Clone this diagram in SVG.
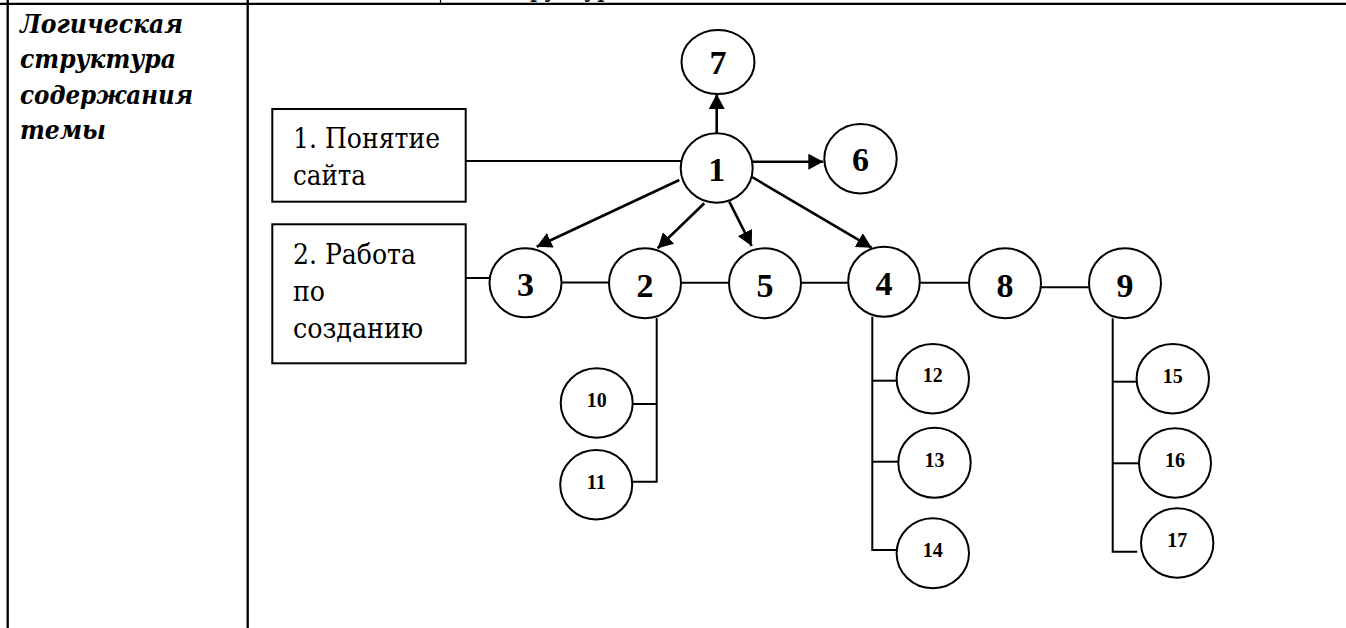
<svg xmlns="http://www.w3.org/2000/svg" width="1346" height="628" viewBox="0 0 1346 628">
<defs>
<style>
.tbl{stroke:#000;stroke-width:2.3;fill:none}
.c{fill:#fff;stroke:#000;stroke-width:2}
.box{fill:#fff;stroke:#000;stroke-width:2}
.ln{stroke:#000;stroke-width:2;fill:none}
.ar{stroke:#000;stroke-width:2.6;fill:none;marker-end:url(#ah)}
.big{font-family:"Liberation Serif","DejaVu Serif",serif;font-weight:bold;font-size:34px;text-anchor:middle}
.sm{font-family:"Liberation Serif","DejaVu Serif",serif;font-weight:bold;font-size:20px;text-anchor:middle}
.bt{font-family:"DejaVu Serif Condensed","DejaVu Serif","Liberation Serif",serif;font-size:28px}
.hd{font-family:"DejaVu Serif Condensed","DejaVu Serif","Liberation Serif",serif;font-size:26px;font-weight:bold;font-style:italic}
</style>
<marker id="ah" markerUnits="userSpaceOnUse" markerWidth="16" markerHeight="16" refX="15" refY="8" orient="auto" viewBox="0 0 16 16">
<path d="M0,0 L15,8 L0,16 z" fill="#000"/>
</marker>
</defs>
<rect width="1346" height="628" fill="#fff"/>
<g id="table">
<line class="tbl" x1="0" y1="3.8" x2="1346" y2="3.8"/>
<line class="tbl" x1="7.7" y1="0" x2="7.7" y2="628"/>
<line class="tbl" x1="247.7" y1="0" x2="247.7" y2="628"/>
<line stroke="#000" stroke-width="1.2" x1="440.5" y1="0" x2="440.5" y2="3"/>
<text class="bt" x="505" y="-4" font-size="22" textLength="120" lengthAdjust="spacingAndGlyphs">структура</text>
<text class="hd" x="20" y="33" textLength="163" lengthAdjust="spacingAndGlyphs">Логическая</text>
<text class="hd" x="20" y="68" textLength="156" lengthAdjust="spacingAndGlyphs">структура</text>
<text class="hd" x="20" y="104" textLength="173" lengthAdjust="spacingAndGlyphs">содержания</text>
<text class="hd" x="20" y="139" textLength="86" lengthAdjust="spacingAndGlyphs">темы</text>
</g>
<g id="connectors">
<line class="ln" x1="465.7" y1="161" x2="681" y2="161"/>
<line class="ln" x1="465.7" y1="278" x2="490" y2="278"/>
<line class="ln" x1="561.5" y1="282.5" x2="609" y2="282.5"/>
<line class="ln" x1="681" y1="282.7" x2="729" y2="282.7"/>
<line class="ln" x1="801" y1="282.7" x2="848.3" y2="282.7"/>
<line class="ln" x1="920" y1="282.7" x2="969" y2="282.7"/>
<line class="ln" x1="1041" y1="287.3" x2="1089" y2="287.3"/>
<polyline class="ln" points="656.7,318 656.7,481.7 632.3,481.7"/>
<line class="ln" x1="632.7" y1="404" x2="656.7" y2="404"/>
<polyline class="ln" points="872.3,316.7 872.3,550 896.7,550"/>
<line class="ln" x1="872.3" y1="380.7" x2="896.7" y2="380.7"/>
<line class="ln" x1="872.3" y1="461.7" x2="898.3" y2="461.7"/>
<polyline class="ln" points="1112.7,318.3 1112.7,551.7 1137.3,551.7"/>
<line class="ln" x1="1112.7" y1="381.7" x2="1136.7" y2="381.7"/>
<line class="ln" x1="1112.7" y1="463.3" x2="1139" y2="463.3"/>
<line class="ar" x1="716.7" y1="133" x2="716.7" y2="94"/>
<line class="ar" x1="752.7" y1="161.7" x2="823.3" y2="161.7"/>
<line class="ar" x1="679.3" y1="180" x2="536.7" y2="246.7"/>
<line class="ar" x1="704.3" y1="203.3" x2="657.7" y2="248.3"/>
<line class="ar" x1="729.3" y1="201.7" x2="751.7" y2="246"/>
<line class="ar" x1="752" y1="177" x2="871.7" y2="247.7"/>
</g>
<g id="box1">
<rect class="box" x="272.3" y="109" width="193.4" height="92.7"/>
<text class="bt" x="293" y="148" textLength="147" lengthAdjust="spacingAndGlyphs">1. Понятие</text>
<text class="bt" x="293" y="185" textLength="73" lengthAdjust="spacingAndGlyphs">сайта</text>
</g>
<g id="box2">
<rect class="box" x="272.3" y="224.3" width="193.4" height="139"/>
<text class="bt" x="293" y="264" textLength="123" lengthAdjust="spacingAndGlyphs">2. Работа</text>
<text class="bt" x="293" y="301" textLength="32" lengthAdjust="spacingAndGlyphs">по</text>
<text class="bt" x="293" y="338" textLength="130" lengthAdjust="spacingAndGlyphs">созданию</text>
</g>
<g id="n7"><ellipse class="c" cx="718" cy="62" rx="36.5" ry="32"/><text class="big" x="718" y="74">7</text></g>
<g id="n1"><ellipse class="c" cx="716.7" cy="168" rx="36" ry="34.7"/><text class="big" x="716.7" y="181">1</text></g>
<g id="n6"><ellipse class="c" cx="860.5" cy="158.7" rx="36.2" ry="34.7"/><text class="big" x="860.5" y="171">6</text></g>
<g id="n3"><ellipse class="c" cx="525.5" cy="282.8" rx="36" ry="34.5"/><text class="big" x="525.5" y="295.5">3</text></g>
<g id="n2"><ellipse class="c" cx="645" cy="283.3" rx="36" ry="35"/><text class="big" x="645" y="296.5">2</text></g>
<g id="n5"><ellipse class="c" cx="765" cy="283.3" rx="36" ry="35"/><text class="big" x="765" y="296.5">5</text></g>
<g id="n4"><ellipse class="c" cx="884" cy="281.7" rx="35.8" ry="35"/><text class="big" x="884" y="295">4</text></g>
<g id="n8"><ellipse class="c" cx="1005" cy="283.3" rx="36" ry="35"/><text class="big" x="1005" y="296.5">8</text></g>
<g id="n9"><ellipse class="c" cx="1125" cy="283.3" rx="36" ry="35"/><text class="big" x="1125" y="296.5">9</text></g>
<g id="n10"><ellipse class="c" cx="596.7" cy="403" rx="36" ry="34.7"/><text class="sm" x="596.7" y="407">10</text></g>
<g id="n11"><ellipse class="c" cx="596.2" cy="484.7" rx="36" ry="34.7"/><text class="sm" x="596.2" y="489">11</text></g>
<g id="n12"><ellipse class="c" cx="932.8" cy="378.7" rx="36.2" ry="34.7"/><text class="sm" x="932.8" y="382">12</text></g>
<g id="n13"><ellipse class="c" cx="934.5" cy="462.7" rx="36.2" ry="35"/><text class="sm" x="934.5" y="466.5">13</text></g>
<g id="n14"><ellipse class="c" cx="932.8" cy="553.3" rx="36.2" ry="35"/><text class="sm" x="932.8" y="557.3">14</text></g>
<g id="n15"><ellipse class="c" cx="1172.8" cy="378.7" rx="36.2" ry="34.7"/><text class="sm" x="1172.8" y="382.5">15</text></g>
<g id="n16"><ellipse class="c" cx="1175" cy="463" rx="36" ry="34.7"/><text class="sm" x="1175" y="467">16</text></g>
<g id="n17"><ellipse class="c" cx="1177.2" cy="543" rx="36.2" ry="34.7"/><text class="sm" x="1177.2" y="546.7">17</text></g>
</svg>
